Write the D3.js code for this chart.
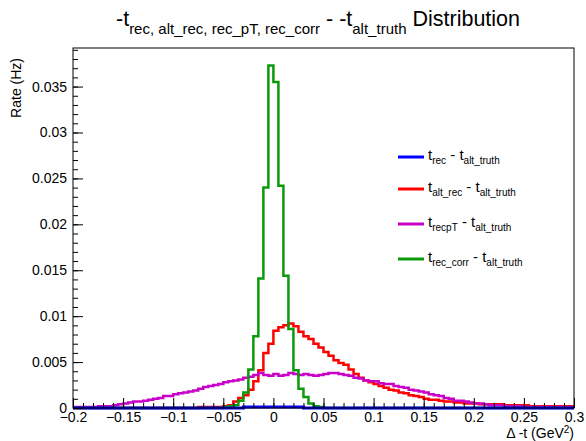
<!DOCTYPE html>
<html>
<head>
<meta charset="utf-8">
<script src="https://cdn.jsdelivr.net/npm/d3@7"></script>
<style>
  body { margin: 0; background: #fff; }
  text { font-family: "Liberation Sans", Arial, sans-serif; }
</style>
</head>
<body>
<div id="chart"></div>
<script>
// histogram: 100 bins of 0.005 from -0.2 to 0.3
var binLow = -0.2, binWidth = 0.005, nBins = 100;

// blue: t_rec - t_alt_truth (sits on the baseline)
var recValues = [
  0,0,0,0,0,0,0,0,0,0, 0,0,0,0,0,0,0,0,0,0,
  0,0,0,0,0,0,0,0,0,0, 0,0,0,0,0.0001,0.0001,0.0001,0.0001,0.0001,0.0001,
  0.0001,0.0001,0.0001,0.0001,0.0001,0.0001,0,0,0,0, 0,0,0,0,0,0,0,0,0,0,
  0,0,0,0,0,0,0,0,0,0, 0,0,0,0,0,0,0,0,0,0,
  0,0,0,0,0,0,0,0,0,0, 0,0,0,0,0,0,0,0,0,0
];

// red: t_alt_rec - t_alt_truth
var altRecValues = [
  0,0,0,0,0,0,0,0,0,0, 0,0,0,0,0,0,0,0,0,0,
  0,0,0,0,0,0.0001,0.0001,0.0001,0.0001,0.0001, 0.0002,0.0003,0.0007,0.0011,0.0014,0.0020,0.0029,0.0041,0.0060,0.0070,
  0.0084,0.0088,0.0090,0.0092,0.0089,0.0083,0.0078,0.0075,0.0070,0.0066, 0.0061,0.0057,0.0052,0.0049,0.0047,0.0042,0.0037,0.0033,0.0030,0.0028,
  0.0026,0.0024,0.0022,0.0020,0.0019,0.0017,0.0016,0.0014,0.0013,0.0012, 0.0010,0.0009,0.0009,0.0008,0.0007,0.0007,0.0006,0.0006,0.0005,0.0005,
  0.0005,0.0004,0.0004,0.0004,0.0004,0.0004,0.0003,0.0003,0.0003,0.0003, 0.0003,0.0002,0.0002,0.0002,0.0002,0.0002,0.0002,0.0002,0.0002,0.0002
];

// magenta: t_recpT - t_alt_truth
var recPtValues = [
  0.0001,0.0001,0.0001,0.0001,0.0001,0.0002,0.0002,0.0002,0.0003,0.0004, 0.0005,0.0006,0.0007,0.0007,0.0008,0.0009,0.0010,0.0011,0.0013,0.0013,
  0.0015,0.0016,0.0017,0.0018,0.0019,0.0021,0.0023,0.0024,0.0025,0.0026, 0.0028,0.0029,0.0030,0.0031,0.0033,0.0034,0.0036,0.0038,0.0036,0.0035,
  0.0037,0.0035,0.0036,0.0038,0.0037,0.0036,0.0037,0.0036,0.0035,0.0036, 0.0037,0.0038,0.0038,0.0037,0.0036,0.0035,0.0033,0.0032,0.0030,0.0029,
  0.0029,0.0027,0.0026,0.0026,0.0024,0.0023,0.0022,0.0020,0.0019,0.0018, 0.0017,0.0015,0.0014,0.0013,0.0011,0.0010,0.0008,0.0008,0.0007,0.0006,
  0.0005,0.0005,0.0004,0.0003,0.0003,0.0003,0.0002,0.0002,0.0002,0.0002, 0.0001,0.0001,0.0001,0.0001,0.0001,0.0001,0.0001,0.0001,0.0001,0.0001
];

// green: t_rec_corr - t_alt_truth
var recCorrValues = [
  0,0,0,0,0,0,0,0,0,0, 0,0,0,0,0,0,0,0,0,0,
  0,0,0,0,0,0,0,0,0,0, 0.0001,0.0002,0.0003,0.0008,0.0017,0.0042,0.0078,0.0141,0.0240,0.0373,
  0.0355,0.0242,0.0144,0.0086,0.0041,0.0021,0.0012,0.0005,0.0002,0.0001, 0,0,0,0,0,0,0,0,0,0,
  0,0,0,0,0,0,0,0,0,0, 0,0,0,0,0,0,0,0,0,0,
  0,0,0,0,0,0,0,0,0,0, 0,0,0,0,0,0,0,0,0,0
];

var xTicks = [-0.2, -0.15, -0.1, -0.05, 0, 0.05, 0.1, 0.15, 0.2, 0.25, 0.3];
var yTicks = [0, 0.005, 0.01, 0.015, 0.02, 0.025, 0.03, 0.035];

var series = [
  {name: "alt_rec", values: altRecValues, color: "#ff0000"},
  {name: "recpT", values: recPtValues, color: "#c800c8"},
  {name: "rec_corr", values: recCorrValues, color: "#0a9a0a"},
  {name: "rec", values: recValues, color: "#0000ff"}
];

var width = 586, height = 441;
var plot = {left: 73, right: 574, top: 48, bottom: 408};

var svg = d3.select("#chart")
  .append("svg")
    .attr("width", width)
    .attr("height", height);

var x = d3.scaleLinear()
  .domain([-0.2, 0.3])
  .range([plot.left, plot.right]);

var y = d3.scaleLinear()
  .domain([0, 0.0392])
  .range([plot.bottom, plot.top]);

var fmt = function(d) {
  if (d === 0) return "0";
  var s = String(+d.toFixed(3));
  return s.replace("-", "\u2212");
};

// histograms
var step = d3.line()
  .curve(d3.curveStepAfter)
  .x(function(d) { return x(d[0]); })
  .y(function(d) { return y(d[1]); });

series.forEach(function(s) {
  var pts = s.values.map(function(v, i) { return [binLow + i * binWidth, v]; });
  pts.push([binLow + nBins * binWidth, s.values[nBins - 1]]);
  svg.append("path")
    .datum(pts)
    .attr("fill", "none")
    .attr("stroke", s.color)
    .attr("stroke-width", s.name === "rec" ? 3 : 2.5)
    .attr("d", step);
});

// frame
svg.append("rect")
  .attr("x", plot.left)
  .attr("y", plot.top)
  .attr("width", plot.right - plot.left)
  .attr("height", plot.bottom - plot.top)
  .attr("fill", "none")
  .attr("stroke", "black")
  .attr("stroke-width", 1);

// x axis
var xMinor = d3.range(-0.2, 0.3001, 0.01);
svg.append("g")
  .attr("transform", "translate(0," + plot.bottom + ")")
  .call(d3.axisBottom(x).tickValues(xMinor).tickSizeInner(-5).tickSizeOuter(0).tickFormat(""))
  .call(function(g) { g.select(".domain").remove(); });
svg.append("g")
  .attr("transform", "translate(0," + plot.bottom + ")")
  .call(d3.axisBottom(x).tickValues(xTicks).tickSizeInner(-10).tickSizeOuter(0).tickPadding(4).tickFormat(fmt))
  .call(function(g) {
    g.select(".domain").remove();
    g.selectAll("text").attr("font-size", "14px").attr("font-family", "Liberation Sans, Arial, sans-serif").attr("fill", "#000");
  });

// y axis
var yMinor = d3.range(0, 0.0391, 0.001);
svg.append("g")
  .attr("transform", "translate(" + plot.left + ",0)")
  .call(d3.axisLeft(y).tickValues(yMinor).tickSizeInner(-5).tickSizeOuter(0).tickFormat(""))
  .call(function(g) { g.select(".domain").remove(); });
svg.append("g")
  .attr("transform", "translate(" + plot.left + ",0)")
  .call(d3.axisLeft(y).tickValues(yTicks).tickSizeInner(-10).tickSizeOuter(0).tickPadding(6).tickFormat(fmt))
  .call(function(g) {
    g.select(".domain").remove();
    g.selectAll("text").attr("font-size", "14px").attr("font-family", "Liberation Sans, Arial, sans-serif").attr("fill", "#000");
  });

// axis titles
svg.append("text")
  .attr("x", plot.right)
  .attr("y", 438)
  .attr("text-anchor", "end")
  .style("font-size", "14px")
  .html("\u0394 -t (GeV<tspan dy='-5' font-size='10px'>2</tspan><tspan dy='5'>)</tspan>");

svg.append("text")
  .attr("transform", "translate(21," + (plot.top + 10) + ") rotate(-90)")
  .attr("text-anchor", "end")
  .style("font-size", "14px")
  .text("Rate (Hz)");

// title
var title = svg.append("text")
  .attr("x", 318)
  .attr("y", 26)
  .attr("text-anchor", "middle")
  .style("font-size", "21.5px");
title.append("tspan").text("-t");
title.append("tspan").attr("dy", 8).style("font-size", "15px").text("rec, alt_rec, rec_pT, rec_corr");
title.append("tspan").attr("dy", -8).text(" - -t");
title.append("tspan").attr("dy", 8).style("font-size", "15px").text("alt_truth");
title.append("tspan").attr("dy", -8).text(" Distribution");

// legend
var legendItems = [
  {sub: "rec", color: "#0000ff", y: 157},
  {sub: "alt_rec", color: "#ff0000", y: 189},
  {sub: "recpT", color: "#c800c8", y: 224},
  {sub: "rec_corr", color: "#0a9a0a", y: 259}
];

legendItems.forEach(function(d) {
  svg.append("line")
    .attr("x1", 398).attr("x2", 424)
    .attr("y1", d.y).attr("y2", d.y)
    .attr("stroke", d.color)
    .attr("stroke-width", 3);
  var t = svg.append("text")
    .attr("x", 428)
    .attr("y", d.y + 3)
    .style("font-size", "15px");
  t.append("tspan").text("t");
  t.append("tspan").attr("dy", 4).style("font-size", "10px").text(d.sub);
  t.append("tspan").attr("dy", -4).text(" - t");
  t.append("tspan").attr("dy", 4).style("font-size", "10px").text("alt_truth");
});
</script>
</body>
</html>
